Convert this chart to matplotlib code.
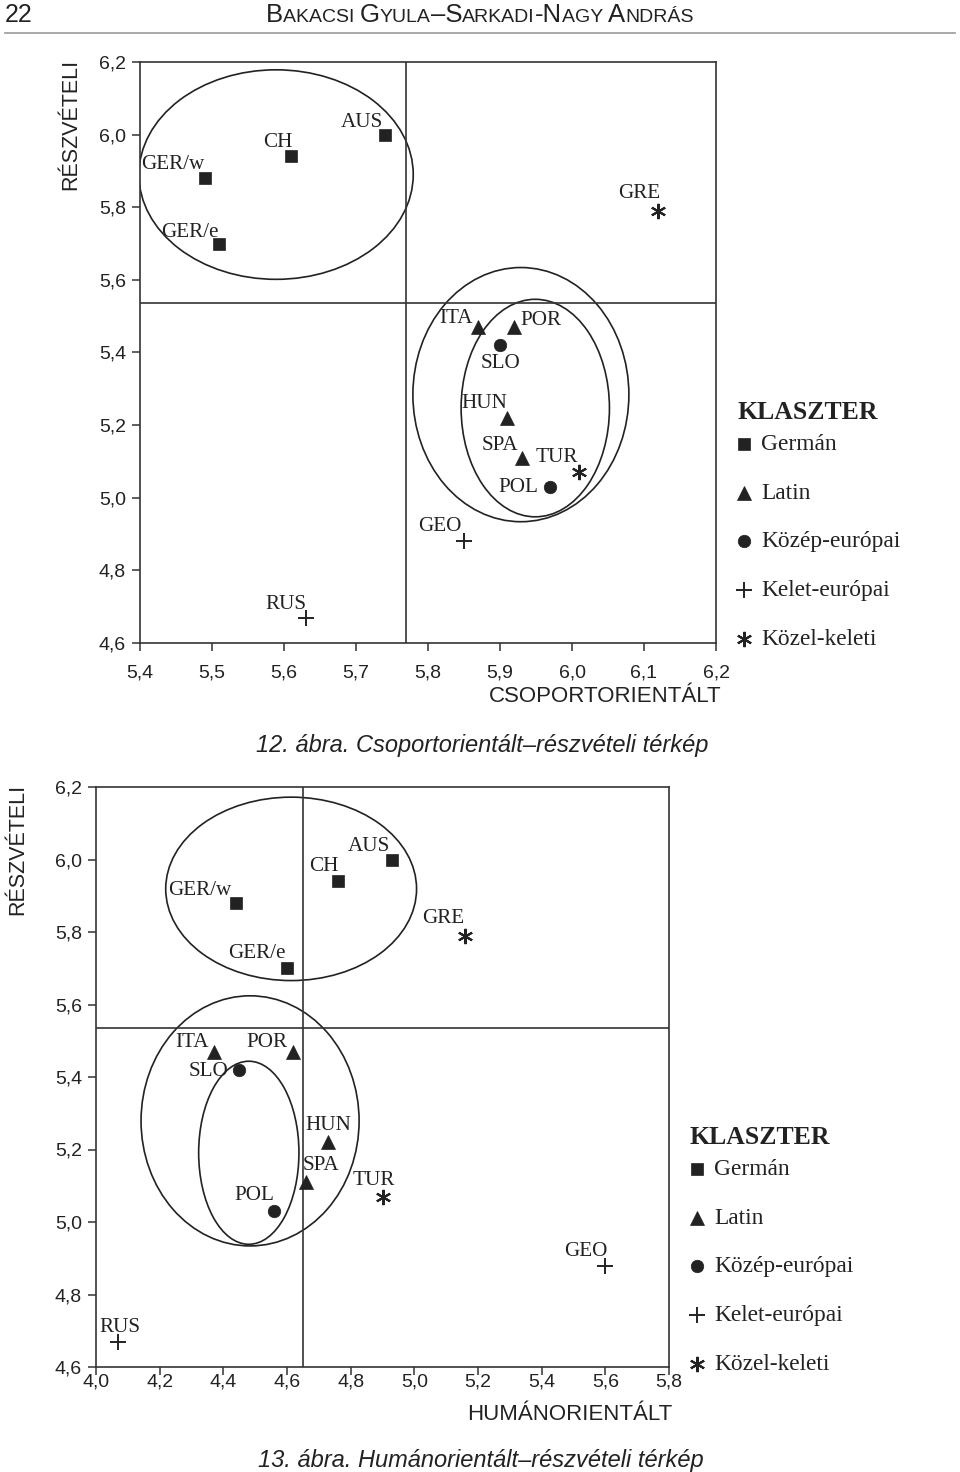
import matplotlib
matplotlib.use("Agg")
import matplotlib.pyplot as plt
from matplotlib.patches import Ellipse
from matplotlib.lines import Line2D
from matplotlib.transforms import IdentityTransform
from matplotlib.ticker import FuncFormatter

SERIF = "Liberation Serif"
SANS = "Liberation Sans"
INK = "#222222"

# --- data -------------------------------------------------------------
clusters = ["Germán", "Latin", "Közép-európai", "Kelet-európai", "Közel-keleti"]
countries = ["GER/w", "GER/e", "CH", "AUS", "GRE", "ITA", "POR", "SLO",
             "HUN", "SPA", "TUR", "POL", "GEO", "RUS"]
country_cluster = ["Germán", "Germán", "Germán", "Germán", "Közel-keleti",
                   "Latin", "Latin", "Közép-európai", "Latin", "Latin",
                   "Közel-keleti", "Közép-európai", "Kelet-európai", "Kelet-európai"]
reszveteli = [5.88, 5.70, 5.94, 6.00, 5.79, 5.47, 5.47, 5.42,
              5.22, 5.11, 5.07, 5.03, 4.88, 4.67]
csoportorientalt = [5.49, 5.51, 5.61, 5.74, 6.12, 5.87, 5.92, 5.90,
                    5.91, 5.93, 6.01, 5.97, 5.85, 5.63]
humanorientalt = [4.44, 4.60, 4.76, 4.93, 5.16, 4.37, 4.62, 4.45,
                  4.73, 4.66, 4.90, 4.56, 5.60, 4.07]

# means (dividing lines)
reszveteli_mean = 5.535
csoport_mean = 5.77
human_mean = 4.65

# cluster envelopes: (centre x, centre y, width, height)
envelopes_12 = [(5.589, 5.890, 0.381, 0.577),
                (5.929, 5.284, 0.300, 0.700),
                (5.949, 5.247, 0.206, 0.599)]
envelopes_13 = [(4.613, 5.919, 0.788, 0.506),
                (4.484, 5.279, 0.685, 0.690),
                (4.480, 5.191, 0.315, 0.505)]

xticks_12 = [5.4, 5.5, 5.6, 5.7, 5.8, 5.9, 6.0, 6.1, 6.2]
xticks_13 = [4.0, 4.2, 4.4, 4.6, 4.8, 5.0, 5.2, 5.4, 5.6, 5.8]
yticks = [4.6, 4.8, 5.0, 5.2, 5.4, 5.6, 5.8, 6.0, 6.2]

# label placement (ha, dx px, dy px) relative to marker
labels_12 = [("right", 0, 9), ("right", -1, 7), ("right", 1, 9), ("right", -2, 8),
             ("right", 2, 13), ("right", -6, 4), ("left", 6, 2), ("center", 0, -23),
             ("right", 0, 10), ("right", -3, 8), ("right", -1, 10), ("right", -12, -5),
             ("right", -2, 10), ("right", 1, 9)]
labels_13 = [("right", -5, 8), ("right", -1, 10), ("right", 1, 10), ("right", -2, 9),
             ("right", -1, 13), ("right", -5, 5), ("right", -6, 5), ("right", -11, -6),
             ("center", 0, 12), ("left", -3, 12), ("right", 12, 12), ("right", 0, 11),
             ("right", 2, 10), ("right", 22, 10)]

styles = {
    "Germán": dict(marker="s", ms=8.5, mfc=INK, mec=INK, mew=0.5),
    "Latin": dict(marker="^", ms=10.5, mfc=INK, mec=INK, mew=0.5),
    "Közép-európai": dict(marker="o", ms=9, mfc=INK, mec=INK, mew=0.5),
    "Kelet-európai": dict(marker="+", ms=11, mfc=INK, mec=INK, mew=1.4),
    "Közel-keleti": dict(marker=(6, 2, 0), ms=11, mfc=INK, mec=INK, mew=1.5),
}

W, H = 960, 1472
fig = plt.figure(figsize=(W / 100, H / 100), dpi=100)
fig.patch.set_facecolor("white")
PIX = IdentityTransform()


def px(x, y):
    return x, H - y


def comma(v, _):
    return f"{v:.1f}".replace(".", ",")


def draw_chart(rect, xvals, xlim, xticks, xpad, xmean, envelopes, label_pos,
               xlabel, xlabel_px, ylabel_x, legend_px):
    ax = fig.add_axes(rect)
    ax.set_xlim(*xlim)
    ax.set_ylim(4.6, 6.2)
    ax.set_xticks(xticks)
    ax.set_yticks(yticks)
    ax.xaxis.set_major_formatter(FuncFormatter(comma))
    ax.yaxis.set_major_formatter(FuncFormatter(comma))
    for s in ax.spines.values():
        s.set_color("#333333")
        s.set_linewidth(1.2)
    ax.tick_params(direction="out", length=6, width=1.1, color="#333333",
                   labelsize=14, labelcolor=INK, pad=4)
    ax.tick_params(axis="x", pad=xpad)
    for lab in ax.get_xticklabels() + ax.get_yticklabels():
        lab.set_family(SANS)

    ax.axvline(xmean, color="#333333", lw=1.2)
    ax.axhline(reszveteli_mean, color="#333333", lw=1.2)

    for cx, cy, w, h in envelopes:
        ax.add_patch(Ellipse((cx, cy), w, h, fill=False, ec=INK, lw=1.2))

    for i, name in enumerate(countries):
        ax.plot([xvals[i]], [reszveteli[i]], ls="none", **styles[country_cluster[i]])
        ha, dx, dy = label_pos[i]
        ax.annotate(name, (xvals[i], reszveteli[i]), xytext=(dx, dy),
                    textcoords="offset pixels", ha=ha, va="baseline",
                    family=SERIF, fontsize=15.2, color=INK)

    fig.text(*px(*xlabel_px), xlabel, transform=PIX, family=SANS, fontsize=16,
             color=INK, ha="right", va="baseline")
    ax.text(ylabel_x, 1.005, "RÉSZVÉTELI", transform=ax.transAxes, rotation=90,
            ha="center", va="top", family=SANS, fontsize=15.5, color=INK)

    # legend
    lx, ly = legend_px
    fig.text(*px(lx, ly), "KLASZTER", transform=PIX,
             family=SERIF, fontweight="bold", fontsize=18.5, color=INK,
             va="baseline", ha="left")
    for k, cl in enumerate(clusters):
        base = ly + 31 + 48.7 * k
        fig.add_artist(Line2D([lx + 7], [H - (base - 6)], transform=PIX,
                              ls="none", **styles[cl]))
        fig.text(*px(lx + 24, base), cl, transform=PIX,
                 family=SERIF, fontsize=16.8, color=INK, va="baseline", ha="left")
    return ax


# 12. ábra
draw_chart([140 / W, 1 - 643 / H, 576 / W, 581 / H], csoportorientalt, (5.4, 6.2),
           xticks_12, 9.5, csoport_mean, envelopes_12, labels_12,
           "CSOPORTORIENTÁLT", (722, 702), -0.12, (737, 419))
# 13. ábra
draw_chart([96 / W, 1 - 1367 / H, 573 / W, 580 / H], humanorientalt, (4.0, 5.8),
           xticks_13, -1, human_mean, envelopes_13, labels_13,
           "HUMÁNORIENTÁLT", (672, 1420), -0.136, (690, 1144))

fig.text(*px(482, 752), "12. ábra. Csoportorientált–részvételi térkép",
         transform=PIX, family=SANS, style="italic",
         fontsize=17, color=INK, ha="center", va="baseline")
fig.text(*px(481, 1467), "13. ábra. Humánorientált–részvételi térkép",
         transform=PIX, family=SANS, style="italic",
         fontsize=17, color=INK, ha="center", va="baseline")

# page header
fig.text(*px(5, 22), "22", transform=PIX, family=SANS,
         fontsize=18, color=INK, ha="left", va="baseline")
fig.add_artist(Line2D([5, 955], [H - 33, H - 33], transform=PIX,
                      color="#999999", lw=1.2))

parts = [("B", 1), ("AKACSI ", 0), ("G", 1), ("YULA", 0), ("–S", 1), ("ARKADI", 0),
         ("-N", 1), ("AGY ", 0), ("A", 1), ("NDRÁS", 0)]
renderer = fig.canvas.get_renderer()
pieces = []
x = 0.0
for s, big in parts:
    t = fig.text(x, H - 22, s, transform=PIX, family=SANS,
                 fontsize=18.5 if big else 14, color=INK, ha="left", va="baseline")
    w = t.get_window_extent(renderer).width
    pieces.append((t, x))
    x += w
shift = 480 - x / 2
for t, x0 in pieces:
    t.set_x(x0 + shift)

fig.savefig("out.png", dpi=100, facecolor="white")
